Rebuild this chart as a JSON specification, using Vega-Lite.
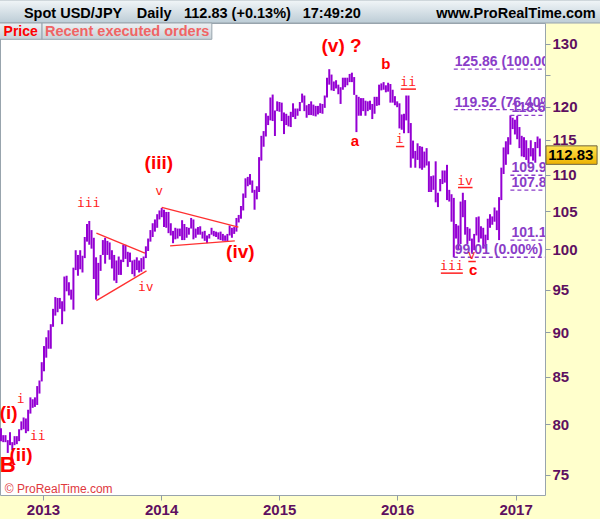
{
  "$schema": "https://vega.github.io/schema/vega-lite/v6.json",
  "width": 545,
  "height": 472,
  "autosize": {"type": "none"},
  "padding": {"left": 0, "top": 23, "right": 55, "bottom": 24},
  "background": "#FFFFCC",
  "config": {
    "view": {"fill": "#FFFFFF", "stroke": "#98A4AD", "strokeWidth": 1},
    "font": "Liberation Sans",
    "axis": {"grid": false, "domain": false, "tickSize": 5, "tickColor": "#8F9CA6", "labelFont": "Liberation Sans", "labelFontSize": 15, "labelFontWeight": "bold", "labelColor": "#5E1060", "labelPadding": 2, "labelOverlap": false, "labelFlush": false}
  },
  "datasets": {
    "px": [
      {"d":"2012-08-24","l":78.3,"h":79.6},{"d":"2012-08-31","l":78.2,"h":78.9},{"d":"2012-09-07","l":78.2,"h":78.9},{"d":"2012-09-14","l":77.13,"h":78.4},{"d":"2012-09-21","l":77.9,"h":79.2},{"d":"2012-09-28","l":77.4,"h":78.2},{"d":"2012-10-05","l":77.9,"h":78.8},{"d":"2012-10-12","l":78.0,"h":78.8},{"d":"2012-10-19","l":78.3,"h":79.5},{"d":"2012-10-26","l":79.4,"h":80.3},{"d":"2012-11-02","l":79.5,"h":80.7},{"d":"2012-11-09","l":79.1,"h":80.6},{"d":"2012-11-16","l":79.3,"h":81.5},{"d":"2012-11-23","l":81.1,"h":82.8},{"d":"2012-11-30","l":81.7,"h":82.6},{"d":"2012-12-07","l":81.8,"h":82.8},{"d":"2012-12-14","l":82.0,"h":84.0},{"d":"2012-12-21","l":83.2,"h":84.6},{"d":"2012-12-28","l":84.5,"h":86.6},
      {"d":"2013-01-04","l":85.6,"h":88.4},{"d":"2013-01-11","l":87.1,"h":89.4},{"d":"2013-01-18","l":88.1,"h":90.2},{"d":"2013-01-25","l":88.1,"h":90.9},{"d":"2013-02-01","l":90.6,"h":92.7},{"d":"2013-02-08","l":91.9,"h":94.1},{"d":"2013-02-15","l":92.3,"h":94.0},{"d":"2013-02-22","l":92.7,"h":94.0},{"d":"2013-03-01","l":90.9,"h":93.6},{"d":"2013-03-08","l":92.4,"h":96.6},{"d":"2013-03-15","l":94.8,"h":96.7},{"d":"2013-03-22","l":94.3,"h":95.9},{"d":"2013-03-29","l":93.8,"h":95.0},{"d":"2013-04-05","l":92.6,"h":97.7},{"d":"2013-04-12","l":97.4,"h":99.9},{"d":"2013-04-19","l":96.7,"h":99.3},{"d":"2013-04-26","l":97.5,"h":99.9},{"d":"2013-05-03","l":97.1,"h":99.2},{"d":"2013-05-10","l":98.9,"h":101.6},{"d":"2013-05-17","l":101.0,"h":103.3},{"d":"2013-05-24","l":100.6,"h":103.7},{"d":"2013-05-31","l":100.1,"h":102.5},{"d":"2013-06-07","l":96.3,"h":101.5},{"d":"2013-06-14","l":93.8,"h":99.0},{"d":"2013-06-21","l":94.3,"h":98.3},{"d":"2013-06-28","l":97.3,"h":99.3},{"d":"2013-07-05","l":99.3,"h":101.2},{"d":"2013-07-12","l":98.2,"h":101.5},{"d":"2013-07-19","l":99.3,"h":101.1},{"d":"2013-07-26","l":98.7,"h":100.9},{"d":"2013-08-02","l":97.6,"h":99.9},{"d":"2013-08-09","l":96.1,"h":99.3},{"d":"2013-08-16","l":95.8,"h":98.6},{"d":"2013-08-23","l":96.8,"h":99.1},{"d":"2013-08-30","l":96.8,"h":98.7},{"d":"2013-09-06","l":98.4,"h":100.6},{"d":"2013-09-13","l":98.8,"h":100.6},{"d":"2013-09-20","l":97.8,"h":99.7},{"d":"2013-09-27","l":98.4,"h":99.6},{"d":"2013-10-04","l":96.9,"h":98.6},{"d":"2013-10-11","l":96.6,"h":98.7},{"d":"2013-10-18","l":97.4,"h":99.0},{"d":"2013-10-25","l":97.1,"h":98.6},{"d":"2013-11-01","l":97.2,"h":98.9},{"d":"2013-11-08","l":97.5,"h":99.1},{"d":"2013-11-15","l":98.9,"h":100.4},{"d":"2013-11-22","l":99.8,"h":101.4},{"d":"2013-11-29","l":101.0,"h":102.5},{"d":"2013-12-06","l":101.6,"h":103.4},{"d":"2013-12-13","l":102.3,"h":103.9},{"d":"2013-12-20","l":102.8,"h":104.6},{"d":"2013-12-27","l":103.9,"h":105.1},
      {"d":"2014-01-03","l":104.2,"h":105.44},{"d":"2014-01-10","l":102.9,"h":105.2},{"d":"2014-01-17","l":102.8,"h":104.9},{"d":"2014-01-24","l":102.1,"h":104.9},{"d":"2014-01-31","l":101.8,"h":103.4},{"d":"2014-02-07","l":100.8,"h":102.4},{"d":"2014-02-14","l":101.3,"h":102.8},{"d":"2014-02-21","l":101.4,"h":102.7},{"d":"2014-02-28","l":101.7,"h":102.7},{"d":"2014-03-07","l":101.2,"h":103.8},{"d":"2014-03-14","l":101.2,"h":103.3},{"d":"2014-03-21","l":101.5,"h":102.9},{"d":"2014-03-28","l":101.9,"h":102.8},{"d":"2014-04-04","l":102.7,"h":104.1},{"d":"2014-04-11","l":101.3,"h":103.9},{"d":"2014-04-18","l":101.5,"h":102.7},{"d":"2014-04-25","l":101.9,"h":102.9},{"d":"2014-05-02","l":101.9,"h":103.0},{"d":"2014-05-09","l":101.4,"h":102.3},{"d":"2014-05-16","l":101.1,"h":102.4},{"d":"2014-05-23","l":100.8,"h":101.8},{"d":"2014-05-30","l":101.4,"h":102.0},{"d":"2014-06-06","l":101.9,"h":102.8},{"d":"2014-06-13","l":101.7,"h":102.4},{"d":"2014-06-20","l":101.6,"h":102.3},{"d":"2014-06-27","l":101.3,"h":102.2},{"d":"2014-07-04","l":101.2,"h":102.3},{"d":"2014-07-11","l":101.1,"h":102.0},{"d":"2014-07-18","l":101.1,"h":101.8},{"d":"2014-07-25","l":101.0,"h":102.0},{"d":"2014-08-01","l":101.8,"h":103.1},{"d":"2014-08-08","l":101.5,"h":102.8},{"d":"2014-08-15","l":102.0,"h":102.9},{"d":"2014-08-22","l":102.3,"h":104.1},{"d":"2014-08-29","l":103.5,"h":104.5},{"d":"2014-09-05","l":104.0,"h":105.7},{"d":"2014-09-12","l":105.1,"h":107.4},{"d":"2014-09-19","l":106.8,"h":109.5},{"d":"2014-09-26","l":108.4,"h":109.7},{"d":"2014-10-03","l":108.6,"h":110.1},{"d":"2014-10-10","l":107.5,"h":109.2},{"d":"2014-10-17","l":105.2,"h":107.9},{"d":"2014-10-24","l":106.6,"h":108.4},{"d":"2014-10-31","l":107.6,"h":112.5},{"d":"2014-11-07","l":112.0,"h":115.6},{"d":"2014-11-14","l":114.0,"h":116.3},{"d":"2014-11-21","l":115.5,"h":118.98},{"d":"2014-11-28","l":117.2,"h":118.6},{"d":"2014-12-05","l":117.9,"h":121.4},{"d":"2014-12-12","l":117.8,"h":121.85},{"d":"2014-12-19","l":115.57,"h":119.4},{"d":"2014-12-26","l":119.3,"h":120.8},
      {"d":"2015-01-02","l":119.2,"h":120.7},{"d":"2015-01-09","l":117.8,"h":120.6},{"d":"2015-01-16","l":115.86,"h":119.1},{"d":"2015-01-23","l":117.2,"h":118.9},{"d":"2015-01-30","l":117.0,"h":118.6},{"d":"2015-02-06","l":116.9,"h":119.2},{"d":"2015-02-13","l":118.4,"h":120.5},{"d":"2015-02-20","l":118.1,"h":119.7},{"d":"2015-02-27","l":118.6,"h":119.7},{"d":"2015-03-06","l":119.3,"h":120.7},{"d":"2015-03-13","l":120.6,"h":122.0},{"d":"2015-03-20","l":119.3,"h":121.7},{"d":"2015-03-27","l":118.3,"h":120.2},{"d":"2015-04-03","l":118.7,"h":120.4},{"d":"2015-04-10","l":118.7,"h":120.8},{"d":"2015-04-17","l":118.6,"h":120.3},{"d":"2015-04-24","l":118.5,"h":120.1},{"d":"2015-05-01","l":118.8,"h":120.1},{"d":"2015-05-08","l":119.0,"h":120.5},{"d":"2015-05-15","l":118.9,"h":120.4},{"d":"2015-05-22","l":119.8,"h":121.7},{"d":"2015-05-29","l":121.4,"h":124.5},{"d":"2015-06-05","l":123.4,"h":125.86},{"d":"2015-06-12","l":122.5,"h":125.0},{"d":"2015-06-19","l":122.4,"h":123.9},{"d":"2015-06-26","l":122.8,"h":124.1},{"d":"2015-07-03","l":121.9,"h":123.4},{"d":"2015-07-10","l":120.4,"h":123.0},{"d":"2015-07-17","l":122.6,"h":124.5},{"d":"2015-07-24","l":123.0,"h":124.5},{"d":"2015-07-31","l":123.3,"h":124.5},{"d":"2015-08-07","l":123.8,"h":125.1},{"d":"2015-08-14","l":123.8,"h":125.3},{"d":"2015-08-21","l":121.8,"h":124.6},{"d":"2015-08-28","l":116.15,"h":121.8},{"d":"2015-09-04","l":118.6,"h":121.5},{"d":"2015-09-11","l":118.6,"h":121.3},{"d":"2015-09-18","l":119.3,"h":121.3},{"d":"2015-09-25","l":118.6,"h":120.9},{"d":"2015-10-02","l":119.3,"h":120.8},{"d":"2015-10-09","l":119.5,"h":120.9},{"d":"2015-10-16","l":118.1,"h":120.4},{"d":"2015-10-23","l":118.9,"h":121.5},{"d":"2015-10-30","l":120.1,"h":121.5},{"d":"2015-11-06","l":120.2,"h":123.4},{"d":"2015-11-13","l":122.5,"h":123.6},{"d":"2015-11-20","l":122.6,"h":123.8},{"d":"2015-11-27","l":122.2,"h":123.3},{"d":"2015-12-04","l":122.3,"h":123.7},{"d":"2015-12-11","l":120.6,"h":123.5},{"d":"2015-12-18","l":120.6,"h":122.6},{"d":"2015-12-25","l":120.2,"h":121.6},
      {"d":"2016-01-01","l":119.9,"h":120.8},{"d":"2016-01-08","l":116.7,"h":120.5},{"d":"2016-01-15","l":116.5,"h":118.8},{"d":"2016-01-22","l":115.98,"h":118.9},{"d":"2016-01-29","l":117.9,"h":121.7},{"d":"2016-02-05","l":116.0,"h":121.7},{"d":"2016-02-12","l":110.99,"h":117.5},{"d":"2016-02-19","l":112.3,"h":114.9},{"d":"2016-02-26","l":110.99,"h":113.4},{"d":"2016-03-04","l":112.1,"h":114.5},{"d":"2016-03-11","l":110.9,"h":114.1},{"d":"2016-03-18","l":110.7,"h":114.0},{"d":"2016-03-25","l":111.0,"h":113.3},{"d":"2016-04-01","l":111.3,"h":113.8},{"d":"2016-04-08","l":107.6,"h":111.9},{"d":"2016-04-15","l":107.6,"h":109.8},{"d":"2016-04-22","l":107.9,"h":109.9},{"d":"2016-04-29","l":106.2,"h":111.9},{"d":"2016-05-06","l":105.55,"h":107.5},{"d":"2016-05-13","l":107.7,"h":109.4},{"d":"2016-05-20","l":108.7,"h":110.6},{"d":"2016-05-27","l":108.9,"h":110.6},{"d":"2016-06-03","l":106.5,"h":111.4},{"d":"2016-06-10","l":106.3,"h":107.9},{"d":"2016-06-17","l":103.6,"h":107.3},{"d":"2016-06-24","l":99.0,"h":106.8},{"d":"2016-07-01","l":101.4,"h":103.3},{"d":"2016-07-08","l":99.98,"h":103.1},{"d":"2016-07-15","l":100.7,"h":106.3},{"d":"2016-07-22","l":104.2,"h":107.5},{"d":"2016-07-29","l":101.9,"h":106.5},{"d":"2016-08-05","l":100.7,"h":102.9},{"d":"2016-08-12","l":101.1,"h":102.7},{"d":"2016-08-19","l":99.55,"h":101.4},{"d":"2016-08-26","l":99.9,"h":102.0},{"d":"2016-09-02","l":101.8,"h":104.2},{"d":"2016-09-09","l":100.9,"h":104.3},{"d":"2016-09-16","l":101.4,"h":103.0},{"d":"2016-09-23","l":100.1,"h":102.8},{"d":"2016-09-30","l":100.1,"h":101.9},{"d":"2016-10-07","l":101.2,"h":104.0},{"d":"2016-10-14","l":102.8,"h":104.6},{"d":"2016-10-21","l":103.2,"h":104.3},{"d":"2016-10-28","l":103.6,"h":105.5},{"d":"2016-11-04","l":102.5,"h":105.1},{"d":"2016-11-11","l":101.2,"h":106.9},{"d":"2016-11-18","l":106.5,"h":111.0},{"d":"2016-11-25","l":110.1,"h":113.9},{"d":"2016-12-02","l":111.4,"h":114.8},{"d":"2016-12-09","l":112.9,"h":115.4},{"d":"2016-12-16","l":114.3,"h":118.66},{"d":"2016-12-23","l":116.6,"h":118.3},{"d":"2016-12-30","l":115.8,"h":118.0},
      {"d":"2017-01-06","l":115.1,"h":118.6},{"d":"2017-01-13","l":113.8,"h":116.9},{"d":"2017-01-20","l":112.6,"h":115.6},{"d":"2017-01-27","l":112.5,"h":115.4},{"d":"2017-02-03","l":112.1,"h":114.95},{"d":"2017-02-10","l":111.6,"h":113.8},{"d":"2017-02-17","l":112.6,"h":114.95},{"d":"2017-02-24","l":112.0,"h":113.8},{"d":"2017-03-03","l":111.7,"h":114.7},{"d":"2017-03-10","l":113.8,"h":115.5},{"d":"2017-03-17","l":112.6,"h":115.2}
    ],
    "fib": [
      {"d":"2016-06-24","p":125.86,"t":"125.86 (100.00%)"},
      {"d":"2016-06-24","p":119.52,"t":"119.52 (76.40%)"},
      {"d":"2016-06-24","p":99.01,"t":"99.01 (0.00%)"},
      {"d":"2016-12-16","p":118.66,"t":"118.66 (100.00%)"},
      {"d":"2016-12-16","p":109.93,"t":"109.93 (50.00%)"},
      {"d":"2016-12-16","p":107.86,"t":"107.86 (38.20%)"},
      {"d":"2016-12-16","p":101.19,"t":"101.19 (0.00%)"}
    ],
    "tl": [
      {"d1":"2013-06-15","p1":102.1,"d2":"2013-11-12","p2":99.53},
      {"d1":"2013-06-15","p1":93.68,"d2":"2013-11-17","p2":97.3},
      {"d1":"2014-01-03","p1":105.5,"d2":"2014-08-28","p2":102.9},
      {"d1":"2014-01-29","p1":100.45,"d2":"2014-08-17","p2":101.1}
    ],
    "uline": [
      {"d1":"2016-01-12","d2":"2016-02-28","p":122.7},
      {"d1":"2015-12-28","d2":"2016-01-23","p":114.03},
      {"d1":"2016-07-07","d2":"2016-08-21","p":108.22},
      {"d1":"2016-05-15","d2":"2016-07-22","p":97.02},
      {"d1":"2016-08-08","d2":"2016-08-31","p":98.47}
    ],
    "wave1": [
      {"d":"2013-12-25","p":111.64,"t":"(iii)"},
      {"d":"2014-09-03","p":99.73,"t":"(iv)"},
      {"d":"2012-09-17","p":81.15,"t":"(i)"},
      {"d":"2012-10-25","p":76.94,"t":"(ii)"},
      {"d":"2015-07-13","p":129.72,"t":"(v) ?"}
    ],
    "wave2": [
      {"d":"2015-08-23","p":114.9,"t":"a"},
      {"d":"2015-11-27","p":126.72,"t":"b"},
      {"d":"2016-08-23","p":97.42,"t":"c"}
    ],
    "wave3": [
      {"d":"2013-05-22","p":106.17,"t":"iii"},
      {"d":"2013-12-26","p":107.8,"t":"v"},
      {"d":"2013-11-15","p":95.38,"t":"iv"},
      {"d":"2012-10-24","p":82.64,"t":"i"},
      {"d":"2012-12-16","p":78.77,"t":"ii"},
      {"d":"2016-02-04","p":123.85,"t":"ii"},
      {"d":"2016-01-09","p":115.16,"t":"i"},
      {"d":"2016-07-29","p":109.15,"t":"iv"},
      {"d":"2016-06-18","p":97.96,"t":"iii"},
      {"d":"2016-08-18","p":99.25,"t":"v"}
    ]
  },
  "layer": [
    {
      "data": {"name": "px"},
      "mark": {"type": "rule", "color": "#9400D3", "strokeWidth": 2.0},
      "encoding": {
        "x": {"field": "d", "type": "temporal",
          "scale": {"type": "utc", "domain": [{"year":2012,"month":8,"date":21,"utc":true},{"year":2017,"month":4,"date":2,"utc":true}], "nice": false},
          "axis": {"orient": "bottom", "values": [{"year":2013,"month":1,"date":1,"utc":true},{"year":2014,"month":1,"date":1,"utc":true},{"year":2015,"month":1,"date":1,"utc":true},{"year":2016,"month":1,"date":1,"utc":true},{"year":2017,"month":1,"date":1,"utc":true}],
            "format": "%Y", "formatType": "utc", "title": null}},
        "y": {"field": "l", "type": "quantitative",
          "scale": {"type": "log", "domain": [73.1, 133.5], "nice": false},
          "axis": {"orient": "right", "values": [75,80,85,90,95,100,105,110,115,120,125,130], "format": "d",
            "labelExpr": "datum.value == 125 ? '' : datum.label", "title": null}},
        "y2": {"field": "h"}
      }
    },
    {
      "data": {"name": "tl"},
      "mark": {"type": "rule", "color": "#FF3030", "strokeWidth": 1.3},
      "encoding": {
        "x": {"field": "d1", "type": "temporal"},
        "x2": {"field": "d2"},
        "y": {"field": "p1", "type": "quantitative"},
        "y2": {"field": "p2"}
      }
    },
    {
      "data": {"name": "fib"},
      "mark": {"type": "rule", "color": "#8A3DC8", "strokeWidth": 1.3, "strokeDash": [4, 3], "clip": true},
      "encoding": {
        "x": {"field": "d", "type": "temporal"},
        "x2": {"datum": {"year":2017,"month":5,"date":1,"utc":true}},
        "y": {"field": "p", "type": "quantitative"}
      }
    },
    {
      "data": {"name": "fib"},
      "mark": {"type": "text", "font": "Liberation Sans", "fontSize": 14, "fontWeight": "bold", "fill": "#8A3DC8", "align": "left", "baseline": "alphabetic", "dy": -3, "dx": 1, "clip": true},
      "encoding": {
        "x": {"field": "d", "type": "temporal"},
        "y": {"field": "p", "type": "quantitative"},
        "text": {"field": "t"}
      }
    },
    {
      "data": {"name": "uline"},
      "mark": {"type": "rule", "color": "#FF2020", "strokeWidth": 1.5},
      "encoding": {
        "x": {"field": "d1", "type": "temporal"},
        "x2": {"field": "d2"},
        "y": {"field": "p", "type": "quantitative"}
      }
    },
    {
      "data": {"name": "wave1"},
      "mark": {"type": "text", "font": "Liberation Sans", "fontSize": 19, "fontWeight": "bold", "fill": "#FF0000", "align": "center", "baseline": "middle"},
      "encoding": {
        "x": {"field": "d", "type": "temporal"},
        "y": {"field": "p", "type": "quantitative"},
        "text": {"field": "t"}
      }
    },
    {
      "data": {"name": "wave2"},
      "mark": {"type": "text", "font": "Liberation Sans", "fontSize": 15, "fontWeight": "bold", "fill": "#FF0000", "align": "center", "baseline": "middle"},
      "encoding": {
        "x": {"field": "d", "type": "temporal"},
        "y": {"field": "p", "type": "quantitative"},
        "text": {"field": "t"}
      }
    },
    {
      "data": {"name": "wave3"},
      "mark": {"type": "text", "font": "DejaVu Sans Mono", "fontSize": 13, "fill": "#FF2020", "align": "center", "baseline": "middle"},
      "encoding": {
        "x": {"field": "d", "type": "temporal"},
        "y": {"field": "p", "type": "quantitative"},
        "text": {"field": "t"}
      }
    },
    {
      "data": {"values": [{"d": "2012-09-14", "p": 75.97, "t": "B"}]},
      "mark": {"type": "text", "font": "Liberation Sans", "fontSize": 22, "fontWeight": "bold", "fill": "#FF0000", "align": "center", "baseline": "middle"},
      "encoding": {
        "x": {"field": "d", "type": "temporal"},
        "y": {"field": "p", "type": "quantitative"},
        "text": {"field": "t"}
      }
    },
    {
      "data": {"values": [{}]},
      "mark": {"type": "text", "font": "Liberation Sans", "fontSize": 12, "fill": "#E0393E", "align": "left", "baseline": "middle", "text": "© ProRealTime.com"},
      "encoding": {
        "x": {"datum": {"year":2012,"month":9,"date":5,"utc":true}, "type": "temporal"},
        "y": {"datum": 73.65, "type": "quantitative"}
      }
    },
    {
      "data": {"values": [{}]},
      "mark": {"type": "rect", "fill": {"gradient": "linear", "x1": 0, "y1": 0, "x2": 0, "y2": 1, "stops": [{"offset": 0, "color": "#F2F6F8"}, {"offset": 1, "color": "#BCCCD6"}]}, "stroke": "#98A4AD", "strokeWidth": 1},
      "encoding": {
        "x": {"datum": {"year":2012,"month":1,"date":1,"utc":true}, "type": "temporal"},
        "x2": {"datum": {"year":2018,"month":1,"date":1,"utc":true}},
        "y": {"datum": 133.5, "type": "quantitative"},
        "y2": {"datum": 137.5}
      }
    },
    {
      "data": {"values": [{}]},
      "mark": {"type": "rect", "fill": {"gradient": "linear", "x1": 0, "y1": 0, "x2": 0, "y2": 1, "stops": [{"offset": 0, "color": "#EDF1F3"}, {"offset": 1, "color": "#C6D1D8"}]}, "stroke": "#98A4AD", "strokeWidth": 1},
      "encoding": {
        "x": {"datum": {"year":2012,"month":8,"date":1,"utc":true}, "type": "temporal"},
        "x2": {"datum": {"year":2012,"month":12,"date":29,"utc":true}},
        "y": {"datum": 130.75, "type": "quantitative"},
        "y2": {"datum": 133.5}
      }
    },
    {
      "data": {"values": [{}]},
      "mark": {"type": "rect", "fill": {"gradient": "linear", "x1": 0, "y1": 0, "x2": 0, "y2": 1, "stops": [{"offset": 0, "color": "#EDF1F3"}, {"offset": 1, "color": "#C6D1D8"}]}, "stroke": "#98A4AD", "strokeWidth": 1},
      "encoding": {
        "x": {"datum": {"year":2012,"month":12,"date":29,"utc":true}, "type": "temporal"},
        "x2": {"datum": {"year":2014,"month":6,"date":7,"utc":true}},
        "y": {"datum": 130.75, "type": "quantitative"},
        "y2": {"datum": 133.5}
      }
    },
    {
      "data": {"values": [{}]},
      "mark": {"type": "text", "font": "Liberation Sans", "fontSize": 14, "fontWeight": "bold", "fill": "#FF0000", "align": "left", "baseline": "alphabetic", "text": "Price"},
      "encoding": {
        "x": {"datum": {"year":2012,"month":9,"date":1,"utc":true}, "type": "temporal"},
        "y": {"datum": 131.25, "type": "quantitative"}
      }
    },
    {
      "data": {"values": [{}]},
      "mark": {"type": "text", "font": "Liberation Sans", "fontSize": 14.5, "fontWeight": "bold", "fill": "#F06464", "align": "left", "baseline": "alphabetic", "text": "Recent executed orders"},
      "encoding": {
        "x": {"datum": {"year":2013,"month":1,"date":7,"utc":true}, "type": "temporal"},
        "y": {"datum": 131.25, "type": "quantitative"}
      }
    },
    {
      "data": {"values": [{}]},
      "mark": {"type": "text", "font": "Liberation Sans", "fontSize": 14.5, "fontWeight": "bold", "fill": "#000000", "align": "left", "baseline": "alphabetic", "text": "Spot USD/JPY"},
      "encoding": {
        "x": {"datum": {"year":2012,"month":11,"date":3,"utc":true}, "type": "temporal"},
        "y": {"datum": 134.44, "type": "quantitative"}
      }
    },
    {
      "data": {"values": [{}]},
      "mark": {"type": "text", "font": "Liberation Sans", "fontSize": 14.5, "fontWeight": "bold", "fill": "#000000", "align": "left", "baseline": "alphabetic", "text": "Daily"},
      "encoding": {
        "x": {"datum": {"year":2013,"month":10,"date":18,"utc":true}, "type": "temporal"},
        "y": {"datum": 134.44, "type": "quantitative"}
      }
    },
    {
      "data": {"values": [{}]},
      "mark": {"type": "text", "font": "Liberation Sans", "fontSize": 14.5, "fontWeight": "bold", "fill": "#000000", "align": "left", "baseline": "alphabetic", "text": "112.83 (+0.13%)"},
      "encoding": {
        "x": {"datum": {"year":2014,"month":3,"date":13,"utc":true}, "type": "temporal"},
        "y": {"datum": 134.44, "type": "quantitative"}
      }
    },
    {
      "data": {"values": [{}]},
      "mark": {"type": "text", "font": "Liberation Sans", "fontSize": 14.5, "fontWeight": "bold", "fill": "#000000", "align": "left", "baseline": "alphabetic", "text": "17:49:20"},
      "encoding": {
        "x": {"datum": {"year":2015,"month":3,"date":15,"utc":true}, "type": "temporal"},
        "y": {"datum": 134.44, "type": "quantitative"}
      }
    },
    {
      "data": {"values": [{}]},
      "mark": {"type": "text", "font": "Liberation Sans", "fontSize": 14.5, "fontWeight": "bold", "fill": "#000000", "align": "right", "baseline": "alphabetic", "text": "www.ProRealTime.com"},
      "encoding": {
        "x": {"datum": {"year":2017,"month":9,"date":6,"utc":true}, "type": "temporal"},
        "y": {"datum": 134.44, "type": "quantitative"}
      }
    },
    {
      "data": {"values": [{}]},
      "mark": {"type": "rect", "fill": {"gradient": "linear", "x1": 0, "y1": 0, "x2": 0, "y2": 1, "stops": [{"offset": 0, "color": "#FFE34F"}, {"offset": 1, "color": "#EDB200"}]}, "stroke": "#6E6440", "strokeWidth": 1},
      "encoding": {
        "x": {"datum": {"year":2017,"month":4,"date":5,"utc":true}, "type": "temporal"},
        "x2": {"datum": {"year":2017,"month":9,"date":10,"utc":true}},
        "y": {"datum": 111.47, "type": "quantitative"},
        "y2": {"datum": 114.13}
      }
    },
    {
      "data": {"values": [{}]},
      "mark": {"type": "text", "font": "Liberation Sans", "fontSize": 15, "fontWeight": "bold", "fill": "#000000", "align": "center", "baseline": "middle", "text": "112.83"},
      "encoding": {
        "x": {"datum": {"year":2017,"month":6,"date":21,"utc":true}, "type": "temporal"},
        "y": {"datum": 112.83, "type": "quantitative"}
      }
    }
  ]
}
